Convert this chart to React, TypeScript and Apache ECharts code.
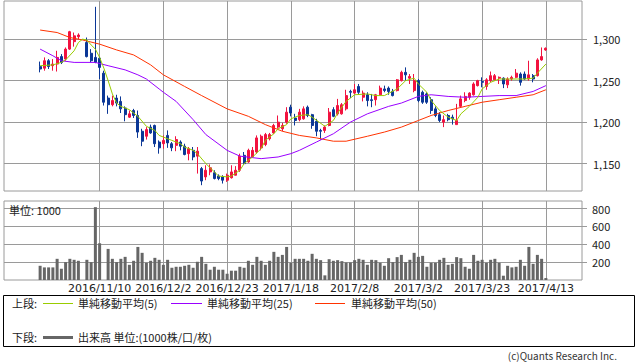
import React, { useEffect, useRef } from 'react';
import * as echarts from 'echarts';

// ---------- data ----------
const totalSlots = 136; // category slots on the x axis (incl. empty margins)
const firstSlot = 8; // slot of the first candle
const tickSlots = [22, 37, 52, 67, 82, 97, 112, 127];
const tickDates = ['2016/11/10', '2016/12/2', '2016/12/23', '2017/1/18', '2017/2/8', '2017/3/2', '2017/3/23', '2017/4/13'];
const priceTicks = [1150, 1200, 1250, 1300];
const volumeTicks = [200, 400, 600, 800];

// [open, close, low, high] ; null = no trading
const ohlc: (number[] | null)[] = [
  [1267, 1264, 1260, 1273], [1265, 1274, 1262, 1278], [1274, 1267, 1264, 1276], [1268, 1270, 1262, 1276],
  [1270, 1278, 1261, 1286], [1279, 1272, 1270, 1282], [1276, 1288, 1274, 1290], [1288, 1309, 1287, 1310],
  [1297, 1304, 1291, 1308], [1303, 1305, 1300, 1307], null, [1296, 1279, 1278, 1302],
  [1283, 1274, 1272, 1288], [1278, 1272, 1271, 1339], [1277, 1266, 1252, 1279], [1259, 1224, 1220, 1262],
  [1229, 1221, 1210, 1232], [1221, 1226, 1219, 1232], [1229, 1223, 1219, 1233], [1225, 1216, 1211, 1231],
  [1217, 1209, 1201, 1219], [1206, 1210, 1205, 1214], [1214, 1208, 1205, 1216], [1208, 1188, 1181, 1214],
  [1189, 1177, 1171, 1192], [1183, 1191, 1179, 1194], [1194, 1187, 1186, 1197], [1196, 1174, 1170, 1197],
  [1176, 1169, 1162, 1178], [1174, 1178, 1168, 1184], [1184, 1175, 1169, 1190], [1174, 1169, 1165, 1176],
  [1172, 1179, 1165, 1183], [1176, 1171, 1166, 1178], [1171, 1161, 1160, 1174], [1162, 1168, 1154, 1170],
  [1166, 1158, 1154, 1170], [1159, 1165, 1138, 1170], [1144, 1129, 1124, 1146], [1134, 1142, 1130, 1148],
  [1140, 1145, 1136, 1149], [1139, 1132, 1131, 1142], [1135, 1132, 1130, 1137], [1134, 1130, 1126, 1136],
  [1130, 1136, 1128, 1138], [1133, 1140, 1132, 1148], [1136, 1142, 1136, 1147], [1142, 1159, 1140, 1162],
  [1160, 1150, 1149, 1164], [1152, 1166, 1151, 1168], [1158, 1166, 1157, 1170], [1164, 1181, 1162, 1184],
  [1169, 1183, 1166, 1185], [1173, 1185, 1171, 1187], [1180, 1185, 1178, 1187], [1187, 1196, 1186, 1198],
  [1194, 1200, 1192, 1208], [1192, 1196, 1189, 1199], [1200, 1212, 1198, 1218], [1218, 1211, 1207, 1221],
  [1205, 1202, 1196, 1210], [1203, 1212, 1201, 1216], [1204, 1216, 1203, 1219], [1218, 1208, 1206, 1220],
  [1209, 1196, 1192, 1210], [1201, 1189, 1183, 1204], [1190, 1189, 1179, 1192], [1190, 1194, 1187, 1196],
  [1196, 1212, 1195, 1217], [1215, 1207, 1206, 1218], [1210, 1220, 1208, 1228], [1210, 1221, 1209, 1223],
  [1216, 1232, 1214, 1239], [1237, 1236, 1229, 1239], [1235, 1239, 1234, 1246], [1243, 1236, 1234, 1246],
  [1230, 1235, 1225, 1238], [1233, 1226, 1219, 1236], [1227, 1226, 1218, 1234], [1227, 1233, 1220, 1234],
  [1233, 1241, 1232, 1244], [1240, 1238, 1236, 1244], [1241, 1237, 1233, 1243], [1237, 1232, 1231, 1240],
  [1238, 1251, 1237, 1252], [1250, 1260, 1249, 1262], [1260, 1257, 1250, 1266], [1253, 1255, 1246, 1258],
  [1238, 1250, 1236, 1258], [1250, 1226, 1224, 1252], [1236, 1224, 1222, 1238], [1234, 1224, 1222, 1236],
  [1227, 1214, 1210, 1230], [1216, 1208, 1206, 1219], [1209, 1202, 1200, 1212], [1200, 1203, 1194, 1208],
  [1208, 1203, 1201, 1210], [1206, 1204, 1197, 1209], [1197, 1202, 1197, 1222], [1219, 1228, 1218, 1232],
  [1226, 1231, 1224, 1236], [1230, 1235, 1227, 1236], [1233, 1246, 1232, 1248], [1244, 1250, 1243, 1251],
  [1249, 1248, 1242, 1254], [1243, 1251, 1239, 1253], [1250, 1256, 1248, 1261], [1251, 1256, 1250, 1258],
  [1253, 1254, 1246, 1255], [1253, 1246, 1241, 1254], [1245, 1252, 1241, 1254], [1252, 1254, 1250, 1256],
  [1254, 1259, 1253, 1264], [1258, 1248, 1244, 1260], [1258, 1252, 1251, 1261], [1252, 1257, 1250, 1274],
  [1256, 1252, 1248, 1258], [1256, 1275, 1255, 1277], [1275, 1279, 1274, 1290], [1287, 1289, 1286, 1290],
];

// volume (unit: 1000)
const volume: (number | null)[] = [
  159, 141, 141, 141, 237, 126, 200, 237, 226, 215, null, 226, 200, 815, 411, null,
  348, 237, 200, 237, 259, 170, 215, 370, 304, 193, 215, 248, 226, 170, 226, 137,
  148, 148, 159, 170, 137, 204, 259, 181, 115, 148, 115, 115, 70, 104, 104, 148,
  137, 215, 170, 259, 215, 170, 215, 315, 259, 281, 370, 193, 237, 237, 237, 215,
  293, 237, 222, 52, 233, 215, 222, 211, 196, 196, 222, 237, 226, 170, 226, 222,
  193, 159, 244, 200, 256, 281, 200, 226, 304, 259, 270, 148, 193, 193, 226, 248,
  170, 181, 256, 244, 148, 126, 281, 215, 226, 193, 226, 237, 193, 48, 159, 141,
  148, 226, 159, 370, 181, 281, 237, 22,
];

// moving averages: [slot, value]
const ma5 = [
  [8, 1268], [11, 1269], [13, 1272], [14, 1275], [16, 1286], [17, 1296], [18, 1300], [19, 1299], [20, 1293],
  [21, 1288], [22, 1278], [23, 1265], [24, 1250], [25, 1234], [26, 1223], [27, 1219], [29, 1215], [31, 1207],
  [33, 1195], [35, 1190], [36, 1184], [38, 1180], [39, 1178], [41, 1174], [42, 1170], [44, 1166], [45, 1162],
  [47, 1150], [49, 1140], [50, 1135], [52, 1134], [53, 1135], [55, 1142], [56, 1150], [58, 1158], [60, 1168],
  [61, 1178], [63, 1186], [64, 1192], [66, 1197], [67, 1204], [69, 1208], [71, 1209], [72, 1206], [75, 1195],
  [77, 1202], [78, 1211], [80, 1225], [82, 1233], [85, 1234], [87, 1232], [89, 1232], [92, 1240], [94, 1250],
  [96, 1253], [97, 1246], [99, 1236], [100, 1226], [102, 1214], [104, 1206], [106, 1202], [107, 1210],
  [109, 1219], [111, 1230], [112, 1240], [114, 1248], [116, 1252], [119, 1252], [122, 1252], [124, 1253],
  [125, 1259], [127, 1270],
];
const ma25 = [
  [8, 1288], [11, 1280], [13, 1274], [16, 1272], [21, 1272], [24, 1268], [28, 1263], [31, 1257], [33, 1252],
  [36, 1240], [37, 1236], [40, 1225], [44, 1203], [47, 1185], [52, 1166], [55, 1159], [60, 1156], [64, 1158],
  [67, 1162], [69, 1166], [73, 1176], [77, 1186], [81, 1200], [85, 1210], [90, 1219], [93, 1223], [97, 1231],
  [100, 1233], [104, 1231], [108, 1230], [112, 1231], [116, 1232], [120, 1232], [124, 1237], [127, 1244],
];
const ma50 = [
  [8, 1311], [12, 1308], [15, 1302], [18, 1299], [22, 1294], [26, 1287], [30, 1281], [34, 1269], [37, 1257],
  [42, 1243], [46, 1232], [52, 1216], [57, 1207], [61, 1197], [65, 1189], [69, 1184], [73, 1181], [77, 1177],
  [80, 1177], [85, 1183], [89, 1188], [93, 1194], [97, 1202], [100, 1208], [104, 1214], [108, 1219],
  [112, 1224], [116, 1227], [120, 1230], [124, 1233], [127, 1239],
];

const legendTop = ['単純移動平均(5)', '単純移動平均(25)', '単純移動平均(50)'];
const legendBottom = '出来高 単位:(1000株/口/枚)';

// ---------- styles ----------
const RED = '#f2123f';
const BLUE = '#0b3796';
const C_MA5 = '#99cc00';
const C_MA25 = '#9900ff';
const C_MA50 = '#ff3300';
const GRID = '#9a9a9a';
const TXT = '#222';
const JP = '"Noto Sans CJK JP", sans-serif';

function buildOption() {
  const categories = Array.from({ length: totalSlots }, (_, i) => {
    const k = tickSlots.indexOf(i);
    return k >= 0 ? tickDates[k] : `#${i}`;
  });
  const candleData: any[] = Array.from({ length: totalSlots }, () => '-');
  const volData: any[] = Array.from({ length: totalSlots }, () => '-');
  ohlc.forEach((d, k) => {
    if (d) candleData[firstSlot + k] = d;
  });
  volume.forEach((v, k) => {
    if (v != null) volData[firstSlot + k] = v;
  });

  const vLines = (z: number) => ({
    silent: true,
    symbol: ['none', 'none'],
    z,
    label: { show: false },
    emphasis: { disabled: true },
    lineStyle: { color: GRID, width: 1, type: 'solid' },
    data: tickSlots.map((s) => ({ xAxis: s })),
  });

  const maSeries = (name: string, data: number[][], color: string) => ({
    name,
    type: 'line',
    xAxisIndex: 0,
    yAxisIndex: 0,
    data,
    showSymbol: false,
    symbol: 'none',
    connectNulls: true,
    z: 4,
    lineStyle: { color, width: 1 },
    itemStyle: { color },
  });

  const yCommon = {
    type: 'value',
    position: 'right',
    axisLine: { show: false },
    splitLine: { show: true, lineStyle: { color: GRID, width: 1 } },
  };

  return {
    animation: false,
    backgroundColor: '#ffffff',
    textStyle: { fontFamily: JP },
    grid: [
      { left: 4, right: 56, top: 1, height: 190, show: true, borderColor: GRID, borderWidth: 1 },
      { left: 4, right: 56, top: 201, height: 79, show: true, borderColor: GRID, borderWidth: 1 },
    ],
    xAxis: [
      {
        type: 'category', gridIndex: 0, data: categories, boundaryGap: true,
        axisLine: { show: false }, axisTick: { show: false }, axisLabel: { show: false }, splitLine: { show: false },
      },
      {
        type: 'category', gridIndex: 1, data: categories, boundaryGap: true,
        axisLine: { show: false }, axisTick: { show: false }, splitLine: { show: false },
        axisLabel: {
          show: true, interval: 0, margin: 3, fontSize: 11, color: TXT, fontFamily: '"DejaVu Sans", sans-serif',
          formatter: (v: string) => (v.startsWith('#') ? '' : v),
        },
      },
    ],
    yAxis: [
      {
        ...yCommon, gridIndex: 0, min: 1117, max: 1346, splitNumber: 5,
        axisTick: { show: true, length: 5, lineStyle: { color: GRID }, customValues: priceTicks },
        axisLabel: {
          margin: 11, fontSize: 11, color: TXT, fontFamily: JP, customValues: priceTicks,
          formatter: (v: number) => v.toLocaleString('en-US'),
        },
      },
      {
        ...yCommon, gridIndex: 1, min: 0, max: 884, splitNumber: 5,
        axisTick: { show: true, length: 5, lineStyle: { color: GRID }, customValues: volumeTicks },
        axisLabel: { margin: 10, fontSize: 11, color: TXT, fontFamily: JP, customValues: volumeTicks },
      },
    ],
    series: [
      {
        name: 'price', type: 'candlestick', xAxisIndex: 0, yAxisIndex: 0, data: candleData,
        barWidth: 2.6, z: 2,
        itemStyle: { color: RED, color0: BLUE, borderColor: RED, borderColor0: BLUE, borderWidth: 1 },
        markLine: vLines(1),
      },
      maSeries('MA50', ma50, C_MA50),
      maSeries('MA25', ma25, C_MA25),
      maSeries('MA5', ma5, C_MA5),
      {
        name: 'volume', type: 'bar', xAxisIndex: 1, yAxisIndex: 1, data: volData,
        barWidth: 3, z: 2, itemStyle: { color: '#666666' },
        markLine: vLines(1),
      },
    ],
    graphic: [
      { type: 'text', x: 9, y: 210, z: 10, style: { text: '単位: 1000', font: `11px ${JP}`, fill: TXT, verticalAlign: 'middle' } },
      { type: 'rect', shape: { x: 3.5, y: 295.5, width: 631, height: 51 }, style: { fill: 'none', stroke: '#000', lineWidth: 1 } },
      { type: 'text', x: 12, y: 303, style: { text: '上段:', font: `11px ${JP}`, fill: TXT, verticalAlign: 'middle' } },
      { type: 'line', shape: { x1: 43, y1: 303.5, x2: 73, y2: 303.5 }, style: { stroke: C_MA5, lineWidth: 1 } },
      { type: 'text', x: 78, y: 303, style: { text: legendTop[0], font: `11px ${JP}`, fill: TXT, verticalAlign: 'middle' } },
      { type: 'line', shape: { x1: 171, y1: 303.5, x2: 202, y2: 303.5 }, style: { stroke: C_MA25, lineWidth: 1 } },
      { type: 'text', x: 207, y: 303, style: { text: legendTop[1], font: `11px ${JP}`, fill: TXT, verticalAlign: 'middle' } },
      { type: 'line', shape: { x1: 315, y1: 303.5, x2: 345, y2: 303.5 }, style: { stroke: C_MA50, lineWidth: 1 } },
      { type: 'text', x: 351, y: 303, style: { text: legendTop[2], font: `11px ${JP}`, fill: TXT, verticalAlign: 'middle' } },
      { type: 'text', x: 12, y: 337, style: { text: '下段:', font: `11px ${JP}`, fill: TXT, verticalAlign: 'middle' } },
      { type: 'line', shape: { x1: 43, y1: 337.5, x2: 73, y2: 337.5 }, style: { stroke: '#666666', lineWidth: 3 } },
      { type: 'text', x: 78, y: 337, style: { text: legendBottom, font: `11px ${JP}`, fill: TXT, verticalAlign: 'middle' } },
      { type: 'text', x: 617, y: 355, style: { text: '(c)Quants Research Inc.', font: `10px ${JP}`, fill: '#333', align: 'right', verticalAlign: 'middle' } },
    ],
  };
}

export default function App() {
  const ref = useRef<HTMLDivElement>(null);
  useEffect(() => {
    if (!ref.current) return;
    const chart = echarts.init(ref.current, null, { renderer: 'svg' });
    chart.setOption(buildOption() as any);
    return () => chart.dispose();
  }, []);
  return (
    <div
      ref={ref}
      style={{ position: 'fixed', left: 0, top: 0, width: 638, height: 362, background: '#fff' }}
    />
  );
}
